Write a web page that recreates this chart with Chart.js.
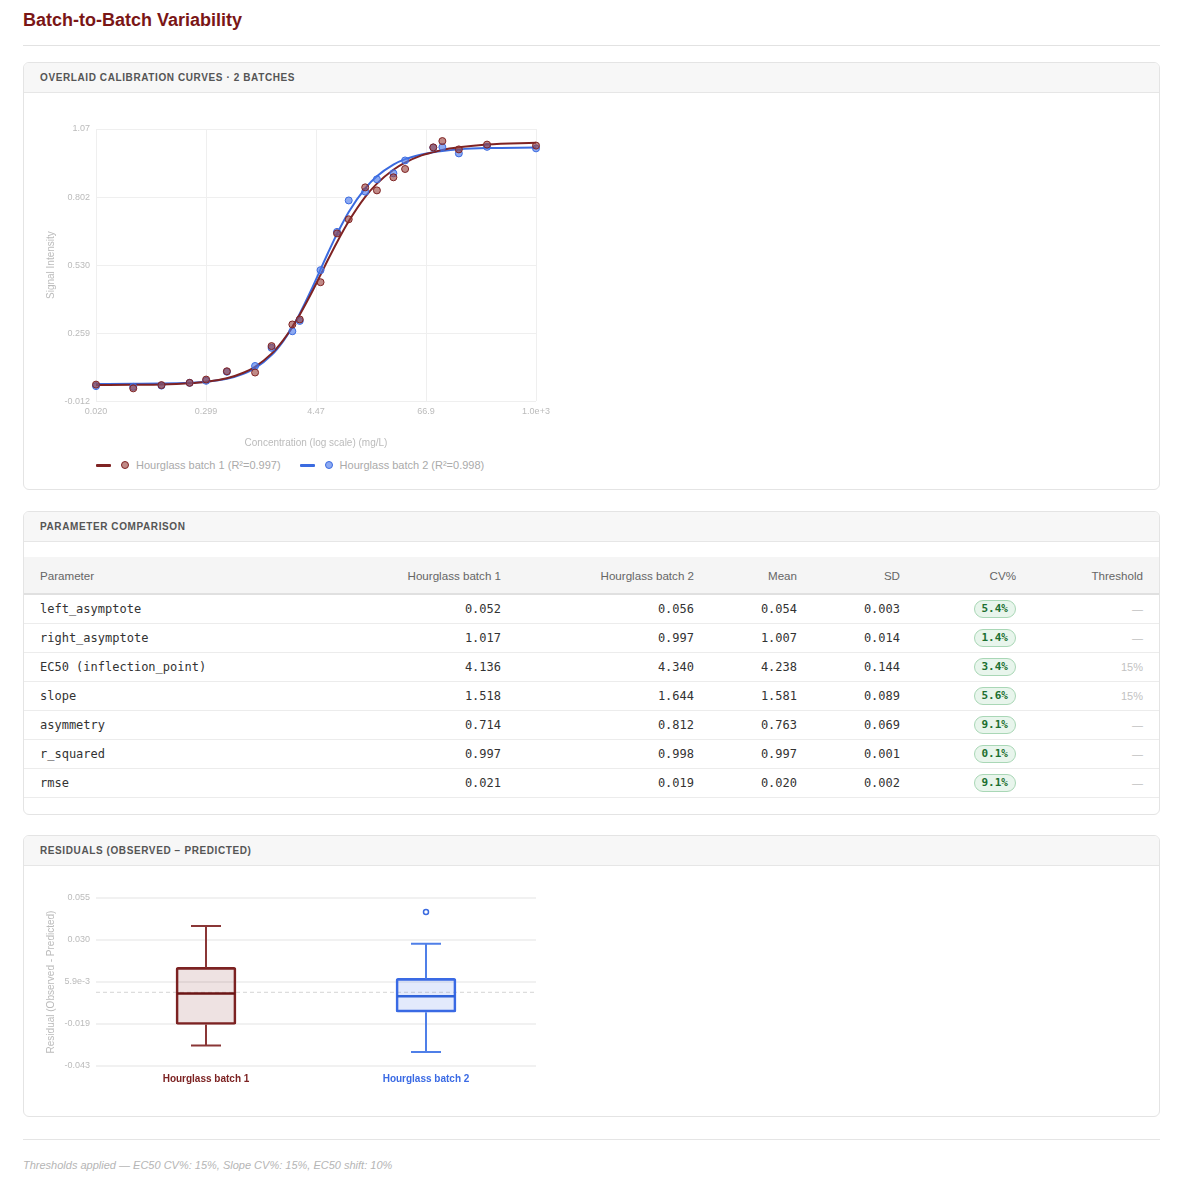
<!DOCTYPE html>
<html>
<head>
<meta charset="utf-8">
<title>Batch-to-Batch Variability</title>
<script src="https://cdn.jsdelivr.net/npm/chart.js@4.4.1/dist/chart.umd.min.js"></script>
<style>
  body { margin: 0; background: #fff; font-family: "Liberation Sans", Arial, Helvetica, sans-serif; color: #333; }
  .page { width: 1137px; margin-left: 23px; padding-top: 9px; }
  h1 { margin: 0 0 16px; font-size: 18px; line-height: 22px; color: #7a1616; font-weight: 700;
       padding-bottom: 14px; border-bottom: 1px solid #e2e2e2; }
  .card { border: 1px solid #e4e4e4; border-radius: 6px; overflow: hidden; }
  .card-h { height: 29px; line-height: 29px; padding: 0 16px; background: #f7f7f7; border-bottom: 1px solid #e6e6e6;
            font-size: 10px; font-weight: 700; letter-spacing: .6px; text-transform: uppercase; color: #555; }
  .card-b { padding: 16px 16px 0; }
  .legend { display: flex; align-items: center; height: 20px; margin-top: 2px; padding-left: 56px; font-size: 11px; color: #aaa; }
  .legend .item { display: flex; align-items: center; margin-right: 19px; }
  .legend .ln { width: 15px; height: 3px; border-radius: 1px; margin-right: 10px; }
  .legend .dot { width: 6px; height: 6px; border-radius: 50%; border: 1px solid; margin-right: 7px; }
  table { width: 1135px; border-collapse: collapse; table-layout: fixed; }
  th { height: 36px; background: #f5f5f5; border-bottom: 2px solid #e0e0e0; font-size: 11.6px; font-weight: 400;
       color: #666; padding: 0 16px; text-align: right; white-space: nowrap; }
  th:first-child, td:first-child { text-align: left; }
  td { height: 28px; border-bottom: 1px solid #ececec; padding: 0 16px; text-align: right; white-space: nowrap;
       font-family: "DejaVu Sans Mono", "Liberation Mono", monospace; font-size: 12px; color: #333; }
  .badge { display: inline-block; padding: 1px 7px; border: 1px solid #a9d7b6; border-radius: 10px; background: #e8f5ec;
           color: #1c6f30; font-weight: 700; font-size: 11px; line-height: 14px; }
  .thr { font-family: "Liberation Sans", Arial, sans-serif; font-size: 11px; color: #c2c2c2; }
  .foot { margin-top: 22px; border-top: 1px solid #e5e5e5; padding-top: 18px; font-size: 11px; line-height: 14px;
          font-style: italic; color: #b5b5b5; }
</style>
</head>
<body>
<div class="page">
  <h1>Batch-to-Batch Variability</h1>

  <div class="card" style="margin-bottom:21px">
    <div class="card-h">Overlaid calibration curves · 2 batches</div>
    <div class="card-b" style="padding-bottom:14px">
      <div style="position:relative;width:520px;height:344px"><canvas id="curves"></canvas></div>
      <div class="legend" id="legend"></div>
    </div>
  </div>

  <div class="card" style="margin-bottom:20px">
    <div class="card-h">Parameter comparison</div>
    <div style="padding:15px 0 16px">
      <table id="params">
        <colgroup><col style="width:300px"><col style="width:193px"><col style="width:193px"><col style="width:103px"><col style="width:103px"><col style="width:116px"><col style="width:127px"></colgroup>
        <thead><tr id="phead"></tr></thead>
        <tbody id="pbody"></tbody>
      </table>
    </div>
  </div>

  <div class="card">
    <div class="card-h">Residuals (observed − predicted)</div>
    <div class="card-b" style="padding-bottom:24px">
      <div style="position:relative;width:520px;height:210px"><canvas id="resid"></canvas></div>
    </div>
  </div>

  <div class="foot">Thresholds applied — EC50 CV%: 15%, Slope CV%: 15%, EC50 shift: 10%</div>
</div>

<script>
// ---- data ----
const SERIES = ["Hourglass batch 1", "Hourglass batch 2"];
const R2 = ["0.997", "0.998"];

// observed points (mg/L, signal)
const CONC = [0.02, 0.05, 0.1, 0.2, 0.3, 0.5, 1, 1.5, 2.5, 3, 5, 7.5, 10, 15, 20, 30, 40, 80, 100, 150, 300, 1000];
const OBS_B1 = [0.054, 0.039, 0.052, 0.061, 0.074, 0.107, 0.102, 0.207, 0.293, 0.313, 0.461, 0.655, 0.711, 0.838, 0.826, 0.878, 0.911, 0.997, 1.022, 0.989, 1.008, 1.004];
const OBS_B2 = [0.048, 0.045, 0.050, 0.061, 0.069, 0.105, 0.128, 0.200, 0.266, 0.307, 0.509, 0.661, 0.786, 0.821, 0.870, 0.894, 0.945, 0.996, 0.998, 0.973, 0.999, 0.993];

// fitted curves
const FIT_CONC = [0.02, 0.05, 0.1, 0.2, 0.3, 0.5, 0.75, 1, 1.5, 2, 2.5, 3, 4, 5, 6, 7.5, 10, 15, 20, 30, 40, 60, 80, 100, 150, 300, 1000];
const FIT_B1 = [0.052, 0.053, 0.054, 0.059, 0.065, 0.079, 0.101, 0.125, 0.177, 0.231, 0.283, 0.332, 0.418, 0.490, 0.550, 0.620, 0.703, 0.800, 0.853, 0.908, 0.936, 0.965, 0.978, 0.987, 0.997, 1.008, 1.015];
const FIT_B2 = [0.056, 0.057, 0.058, 0.061, 0.065, 0.077, 0.097, 0.119, 0.171, 0.227, 0.283, 0.336, 0.432, 0.512, 0.577, 0.653, 0.740, 0.834, 0.882, 0.928, 0.950, 0.969, 0.978, 0.983, 0.989, 0.994, 0.996];

const X_TICK_LABELS = ["0.020", "0.299", "4.47", "66.9", "1.0e+3"];
const Y_TICK_LABELS = ["-0.012", "0.259", "0.530", "0.802", "1.07"];

// parameter table
const TABLE_COLS = ["Parameter", "Hourglass batch 1", "Hourglass batch 2", "Mean", "SD", "CV%", "Threshold"];
const PARAMS = ["left_asymptote", "right_asymptote", "EC50 (inflection_point)", "slope", "asymmetry", "r_squared", "rmse"];
const VAL_B1 = ["0.052", "1.017", "4.136", "1.518", "0.714", "0.997", "0.021"];
const VAL_B2 = ["0.056", "0.997", "4.340", "1.644", "0.812", "0.998", "0.019"];
const MEANS = ["0.054", "1.007", "4.238", "1.581", "0.763", "0.997", "0.020"];
const SDS = ["0.003", "0.014", "0.144", "0.089", "0.069", "0.001", "0.002"];
const CVS = ["5.4%", "1.4%", "3.4%", "5.6%", "9.1%", "0.1%", "9.1%"];
const THRESHOLDS = ["—", "—", "15%", "15%", "—", "—", "—"];

// residual box plot
const BOX_MIN = [-0.0311, -0.0348];
const BOX_Q1 = [-0.0188, -0.0116];
const BOX_MED = [-0.0007, -0.0023];
const BOX_Q3 = [0.0145, 0.0081];
const BOX_MAX = [0.0386, 0.0283];
const OUTLIERS = [[], [0.0468]];
const RES_TICK_LABELS = ["-0.043", "-0.019", "5.9e-3", "0.030", "0.055"];

// ---- styles ----
const LINE_COLORS = ["#7f2323", "#3b6be0"];
const POINT_FILL = ["rgba(150, 60, 55, 0.6)", "rgba(80, 125, 235, 0.65)"];
const BOX_FILL = ["rgba(127, 29, 29, 0.13)", "rgba(59, 107, 232, 0.14)"];
const BOX_EDGE = ["#7c2222", "#3a6ae4"];
const WHISKER = ["#8a3636", "#4f7fe8"];
const MEDIAN = ["#6b1515", "#2f62d9"];
const TICK = "#bbbbbb";

Chart.defaults.font.family = '"Liberation Sans", Arial, Helvetica, sans-serif';
Chart.defaults.animation = false;

function evenTicks(labels) {
  return function (axis) {
    const n = labels.length - 1;
    const ticks = [];
    if (axis.type === "logarithmic") {
      const a = Math.log10(axis.min), b = Math.log10(axis.max);
      for (let i = 0; i <= n; i++) ticks.push({ value: Math.pow(10, a + (b - a) * i / n) });
    } else {
      for (let i = 0; i <= n; i++) ticks.push({ value: axis.min + (axis.max - axis.min) * i / n });
    }
    axis.ticks = ticks;
  };
}

// ---- calibration curves ----
const curveSets = [];
[FIT_B1, FIT_B2].forEach((fit, i) => {
  curveSets.push({
    type: "line",
    data: FIT_CONC.map((x, k) => ({ x: x, y: fit[k] })),
    borderColor: LINE_COLORS[i],
    borderWidth: 2,
    pointRadius: 0,
    cubicInterpolationMode: "monotone",
    order: 2
  });
});
[OBS_B1, OBS_B2].forEach((obs, i) => {
  curveSets.push({
    type: "scatter",
    data: CONC.map((x, k) => ({ x: x, y: obs[k] })),
    backgroundColor: POINT_FILL[i],
    borderColor: LINE_COLORS[i],
    borderWidth: 1,
    pointRadius: 3.5,
    clip: false,
    order: 1
  });
});

new Chart(document.getElementById("curves"), {
  type: "scatter",
  data: { datasets: curveSets },
  options: {
    responsive: true,
    maintainAspectRatio: false,
    layout: { padding: { top: 20, right: 24, left: 0, bottom: 0 } },
    plugins: { legend: { display: false }, tooltip: { enabled: false } },
    scales: {
      x: {
        type: "logarithmic",
        min: 0.02,
        max: 1000,
        afterBuildTicks: evenTicks(X_TICK_LABELS),
        ticks: { callback: (v, i) => X_TICK_LABELS[i], color: TICK, font: { size: 9 }, padding: 5, maxRotation: 0, autoSkip: false },
        grid: { color: "#efefef", drawTicks: false },
        border: { display: false },
        title: { display: true, text: "Concentration (log scale) (mg/L)", color: TICK, font: { size: 10 }, padding: { top: 15, bottom: 4 } }
      },
      y: {
        min: -0.012,
        max: 1.07,
        afterBuildTicks: evenTicks(Y_TICK_LABELS),
        afterFit: (a) => { a.width = 56; },
        ticks: { callback: (v, i) => Y_TICK_LABELS[i], color: TICK, font: { size: 9 }, padding: 6 },
        grid: { color: "#efefef", drawTicks: false },
        border: { display: false },
        title: { display: true, text: "Signal Intensity", color: TICK, font: { size: 10 }, padding: { top: 5, bottom: 0 } }
      }
    }
  }
});

// html legend
const legend = document.getElementById("legend");
SERIES.forEach((name, i) => {
  const item = document.createElement("span");
  item.className = "item";
  item.innerHTML = '<i class="ln" style="background:' + LINE_COLORS[i] + '"></i>' +
    '<i class="dot" style="background:' + POINT_FILL[i] + ';border-color:' + LINE_COLORS[i] + '"></i>' +
    name + " (R²=" + R2[i] + ")";
  legend.appendChild(item);
});

// ---- parameter table ----
const head = document.getElementById("phead");
TABLE_COLS.forEach((c) => {
  const th = document.createElement("th");
  th.textContent = c;
  head.appendChild(th);
});
const body = document.getElementById("pbody");
PARAMS.forEach((p, i) => {
  const tr = document.createElement("tr");
  tr.innerHTML = "<td>" + p + "</td><td>" + VAL_B1[i] + "</td><td>" + VAL_B2[i] + "</td><td>" + MEANS[i] +
    "</td><td>" + SDS[i] + '</td><td><span class="badge">' + CVS[i] + '</span></td><td class="thr">' + THRESHOLDS[i] + "</td>";
  body.appendChild(tr);
});

// ---- residual box plot ----
const boxParts = {
  id: "boxParts",
  beforeDatasetsDraw(chart) {
    const { ctx, chartArea, scales } = chart;
    const y0 = scales.y.getPixelForValue(0);
    ctx.save();
    ctx.setLineDash([4, 3]);
    ctx.strokeStyle = "#d4d4d4";
    ctx.lineWidth = 1;
    ctx.beginPath();
    ctx.moveTo(chartArea.left, y0);
    ctx.lineTo(chartArea.right, y0);
    ctx.stroke();
    ctx.restore();
  },
  afterDatasetsDraw(chart) {
    const { ctx, scales } = chart;
    const y = scales.y;
    chart.getDatasetMeta(0).data.forEach((bar, i) => {
      const x = bar.x, half = bar.width / 2, cap = 15;
      const pMax = y.getPixelForValue(BOX_MAX[i]), pQ3 = y.getPixelForValue(BOX_Q3[i]);
      const pQ1 = y.getPixelForValue(BOX_Q1[i]), pMin = y.getPixelForValue(BOX_MIN[i]);
      const pMed = y.getPixelForValue(BOX_MED[i]);
      ctx.save();
      ctx.strokeStyle = WHISKER[i];
      ctx.lineWidth = 2;
      ctx.beginPath();
      ctx.moveTo(x, pQ3); ctx.lineTo(x, pMax);
      ctx.moveTo(x - cap, pMax); ctx.lineTo(x + cap, pMax);
      ctx.moveTo(x, pQ1); ctx.lineTo(x, pMin);
      ctx.moveTo(x - cap, pMin); ctx.lineTo(x + cap, pMin);
      ctx.stroke();
      ctx.strokeStyle = MEDIAN[i];
      ctx.lineWidth = 2.5;
      ctx.beginPath();
      ctx.moveTo(x - half + 1, pMed); ctx.lineTo(x + half - 1, pMed);
      ctx.stroke();
      ctx.restore();
    });
  }
};

const outlierPts = [];
OUTLIERS.forEach((list, i) => list.forEach((v) => outlierPts.push({ x: SERIES[i], y: v })));

new Chart(document.getElementById("resid"), {
  type: "bar",
  data: {
    labels: SERIES,
    datasets: [
      {
        type: "bar",
        data: SERIES.map((s, i) => [BOX_Q1[i], BOX_Q3[i]]),
        backgroundColor: BOX_FILL,
        borderColor: BOX_EDGE,
        borderWidth: 2,
        borderSkipped: false,
        borderRadius: 2,
        barThickness: 60,
        order: 2
      },
      {
        type: "line",
        data: outlierPts,
        showLine: false,
        pointRadius: 2.5,
        pointBorderWidth: 1.5,
        pointBackgroundColor: "#fff",
        pointBorderColor: LINE_COLORS[1],
        order: 1
      }
    ]
  },
  options: {
    responsive: true,
    maintainAspectRatio: false,
    layout: { padding: { top: 16, right: 24, left: 0, bottom: 0 } },
    plugins: { legend: { display: false }, tooltip: { enabled: false } },
    scales: {
      x: {
        grid: { display: false, drawTicks: false },
        border: { display: false },
        ticks: { color: (c) => BOX_EDGE[c.index], font: { size: 10, weight: "bold" }, padding: 7 }
      },
      y: {
        min: -0.043,
        max: 0.055,
        afterBuildTicks: evenTicks(RES_TICK_LABELS),
        afterFit: (a) => { a.width = 56; },
        ticks: { callback: (v, i) => RES_TICK_LABELS[i], color: TICK, font: { size: 9 }, padding: 6 },
        grid: { color: "#f1f1f1", lineWidth: 2, drawTicks: false },
        border: { display: false },
        title: { display: true, text: "Residual (Observed - Predicted)", color: TICK, font: { size: 10 }, padding: { top: 5, bottom: 0 } }
      }
    }
  },
  plugins: [boxParts]
});
</script>
</body>
</html>
